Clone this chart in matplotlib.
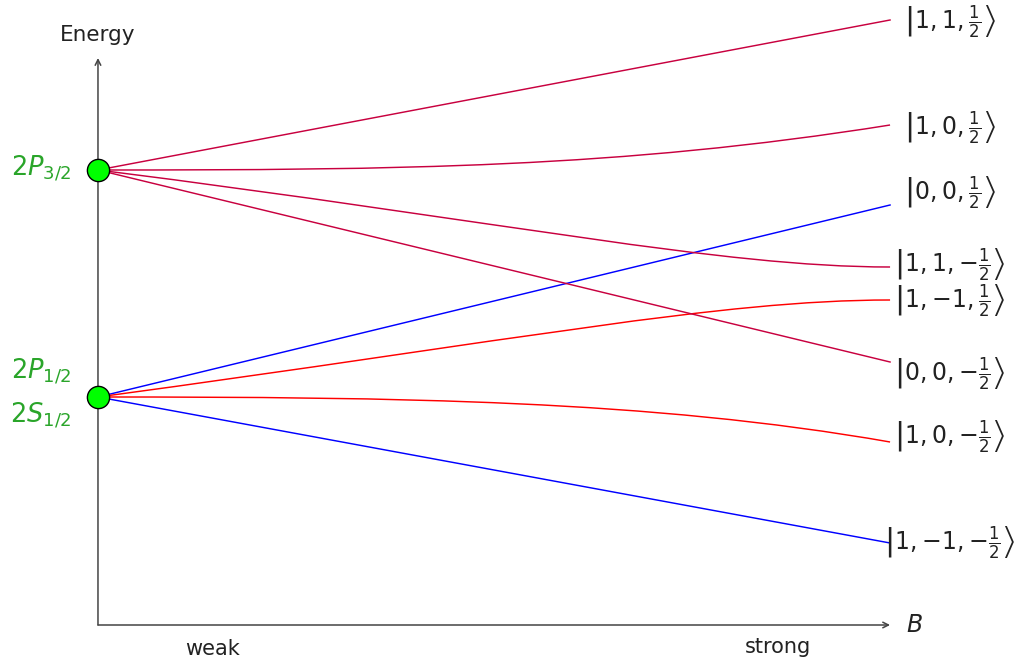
import matplotlib
matplotlib.use("Agg")
import matplotlib.pyplot as plt
from matplotlib.path import Path
from matplotlib.patches import PathPatch

plt.rcParams['font.family'] = ['DejaVu Sans']
plt.rcParams['mathtext.fontset'] = 'dejavusans'

# ---------- data ----------
# field B runs 0 (weak) .. 1 (strong), energy in arbitrary units
level_names = [r'$2P_{3/2}$', r'$2P_{1/2}$', r'$2S_{1/2}$']
level_E = [4.55, 2.28]          # zero-field energies (upper, lower)
level_label_E = [4.49, 2.46, 2.02]

state_labels = [
    r'$\left|1, 1, \frac{1}{2}\right\rangle$',
    r'$\left|1, 0, \frac{1}{2}\right\rangle$',
    r'$\left|0, 0, \frac{1}{2}\right\rangle$',
    r'$\left|1, 1, {-}\frac{1}{2}\right\rangle$',
    r'$\left|1, {-}1, \frac{1}{2}\right\rangle$',
    r'$\left|0, 0, {-}\frac{1}{2}\right\rangle$',
    r'$\left|1, 0, {-}\frac{1}{2}\right\rangle$',
    r'$\left|1, {-}1, {-}\frac{1}{2}\right\rangle$',
]
state_start = [0, 0, 1, 0, 1, 0, 1, 1]     # index into level_E
state_end_E = [6.05, 5.00, 4.20, 3.58, 3.25, 2.63, 1.83, 0.82]
state_label_E = [6.03, 4.97, 4.32, 3.60, 3.24, 2.51, 1.88, 0.82]
state_color = ['#c8003f', '#c8003f', '#0000ff', '#c8003f',
               '#ff0000', '#c8003f', '#ff0000', '#0000ff']
# bezier handles for the bent lines, None = straight
state_handles = [
    None,
    [(0.381, 4.55), (0.659, 4.57)],
    None,
    [(0.520, 4.03), (0.785, 3.58)],
    [(0.533, 2.85), (0.785, 3.25)],
    None,
    [(0.381, 2.28), (0.697, 2.25)],
    None,
]

# ---------- figure ----------
fig = plt.figure(figsize=(10.16, 6.59), dpi=100)
ax = fig.add_axes([0, 0, 1, 1])
ax.set_xlim(-0.1237, 1.159)
ax.set_ylim(-0.34, 6.25)
ax.axis('off')

axis_col = '#444444'
ax.annotate('', xy=(0, 5.67), xytext=(0, 0),
            arrowprops=dict(arrowstyle='->', color=axis_col, lw=1.1,
                            shrinkA=0, shrinkB=0))
ax.annotate('', xy=(1.0, 0), xytext=(0, 0),
            arrowprops=dict(arrowstyle='->', color=axis_col, lw=1.1,
                            shrinkA=0, shrinkB=0))

for i in range(len(state_labels)):
    y0 = level_E[state_start[i]]
    y1 = state_end_E[i]
    h = state_handles[i]
    if h is None:
        ax.plot([0, 1], [y0, y1], color=state_color[i], lw=1.05, zorder=2)
    else:
        verts = [(0, y0), h[0], h[1], (1, y1)]
        codes = [Path.MOVETO, Path.CURVE4, Path.CURVE4, Path.CURVE4]
        ax.add_patch(PathPatch(Path(verts, codes), facecolor='none',
                               edgecolor=state_color[i], lw=1.05, zorder=2))
    ax.text(1.076, state_label_E[i], state_labels[i], ha='center',
            va='center', fontsize=17, color='#222222')

ax.plot([0, 0], level_E, 'o', ms=16, mfc='#00ff00', mec='black',
        mew=1.0, zorder=4)

green = '#2aa52a'
for name, ey in zip(level_names, level_label_E):
    ax.text(-0.033, ey, name, ha='right', va='baseline', fontsize=18.5,
            color=green)

ax.text(0, 5.84, 'Energy', ha='center', va='baseline', fontsize=15.5,
        color='#222222')
ax.text(1.02, -0.07, r'$B$', ha='left', va='baseline', fontsize=17,
        color='#222222')
ax.text(0.144, -0.30, 'weak', ha='center', va='baseline', fontsize=15,
        color='#222222')
ax.text(0.859, -0.277, 'strong', ha='center', va='baseline', fontsize=15,
        color='#222222')

fig.savefig('out.png', dpi=100)
